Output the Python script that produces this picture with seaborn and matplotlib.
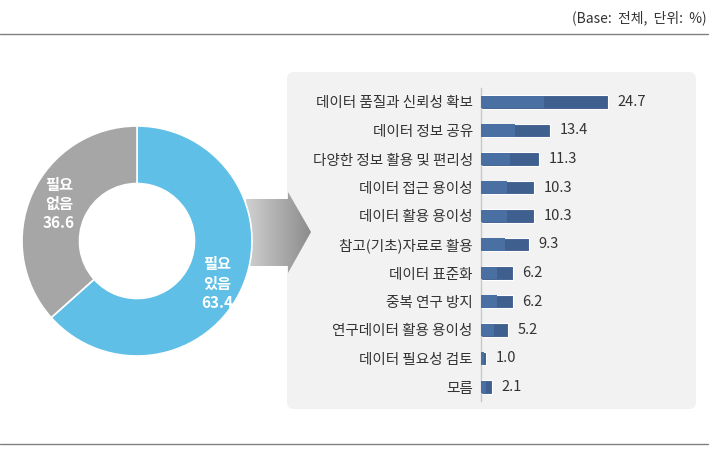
import numpy as np
import pandas as pd
import matplotlib
matplotlib.use("Agg")
import matplotlib.pyplot as plt
import seaborn as sns
from matplotlib.patches import FancyBboxPatch, Polygon

# data
pie_labels = ["필요\n있음", "필요\n없음"]
pie_values = [63.4, 36.6]
pie_colors = ["#5FBFE6", "#A6A6A6"]

categories = ["데이터 품질과 신뢰성 확보", "데이터 정보 공유", "다양한 정보 활용 및 편리성",
              "데이터 접근 용이성", "데이터 활용 용이성", "참고(기초)자료로 활용",
              "데이터 표준화", "중복 연구 방지", "연구데이터 활용 용이성",
              "데이터 필요성 검토", "모름"]
values = [24.7, 13.4, 11.3, 10.3, 10.3, 9.3, 6.2, 6.2, 5.2, 1.0, 2.1]

df = pd.DataFrame({"item": categories, "pct": values})

sns.set_theme(style="white")
plt.rcParams["font.family"] = ["Noto Sans CJK KR", "DejaVu Sans"]

W, H = 720, 453
fig = plt.figure(figsize=(W / 100, H / 100), dpi=100)
fig.patch.set_facecolor("white")

def fig_rect(x0, y0, x1, y1):
    # pixel box (top-left origin) -> figure fraction
    return [x0 / W, 1 - y1 / H, (x1 - x0) / W, (y1 - y0) / H]

# background axes in pixel units
bg = fig.add_axes([0, 0, 1, 1])
bg.set_xlim(0, W)
bg.set_ylim(H, 0)
bg.axis("off")

bg.plot([0, 708], [34, 34], color="#808080", lw=1)
bg.plot([0, 708], [444, 444], color="#808080", lw=1)
bg.text(707, 18, "(Base:  전체,  단위:  %)", ha="right", va="center", fontsize=10, color="#333333")

panel = FancyBboxPatch((287, 72), 409, 337, boxstyle="round,pad=0,rounding_size=7",
                       fc="#F2F2F2", ec="none")
bg.add_patch(panel)

# gradient arrow
arrow = Polygon([(246, 199), (288, 199), (288, 192), (311, 232), (288, 273), (288, 266), (246, 266)],
                closed=True, fc="none", ec="none")
bg.add_patch(arrow)
grad = np.linspace(0, 1, 256).reshape(1, -1)
img = bg.imshow(grad, extent=[246, 311, 273, 192], cmap=matplotlib.colors.LinearSegmentedColormap.from_list(
    "g", ["#D0D0D0", "#8C8C8C"]), aspect="auto", zorder=2)
img.set_clip_path(arrow)
bg.set_xlim(0, W)
bg.set_ylim(H, 0)

# donut
ax_pie = fig.add_axes(fig_rect(22, 126, 252, 356))
wedges, _ = ax_pie.pie(pie_values, colors=pie_colors, startangle=90, counterclock=False,
                       radius=1, wedgeprops=dict(width=0.5, edgecolor="white", linewidth=1.2))
ax_pie.set_xlim(-1, 1)
ax_pie.set_ylim(-1, 1)
ax_pie.set_aspect("auto")
ax_pie.text(0.7, -0.37, f"{pie_labels[0]}\n{pie_values[0]}", ha="center", va="center",
            color="white", fontsize=11, fontweight="bold", linespacing=1.25)
ax_pie.text(-0.68, 0.32, f"{pie_labels[1]}\n{pie_values[1]}", ha="center", va="center",
            color="white", fontsize=11, fontweight="bold", linespacing=1.25)

# bars
ax = fig.add_axes(fig_rect(481, 87.75, 686, 401.25))
ax.patch.set_alpha(0)
sns.barplot(data=df, x="pct", y="item", color="#3F5F8E", width=0.47, saturation=1,
            edgecolor="white", linewidth=0.8, ax=ax)
ax.barh(np.arange(len(values)), np.array(values) / 2, height=0.44, color="#4A6FA3",
        linewidth=0, edgecolor="none", zorder=3)
ax.set_xlim(0, 40)
ax.set_ylim(len(values) - 0.5, -0.5)
for i, v in enumerate(values):
    ax.text(v + 1.9, i, f"{v:.1f}", va="center", ha="left", fontsize=10.5, color="#333333")
ax.set_xlabel("")
ax.set_ylabel("")
ax.set_xticks([])
ax.tick_params(axis="y", length=0, pad=6, labelsize=10.5, labelcolor="#333333")
for s in ["top", "right", "bottom"]:
    ax.spines[s].set_visible(False)
ax.spines["left"].set_color("#C8C8C8")
ax.spines["left"].set_linewidth(1)

fig.savefig("out.png", dpi=100)
